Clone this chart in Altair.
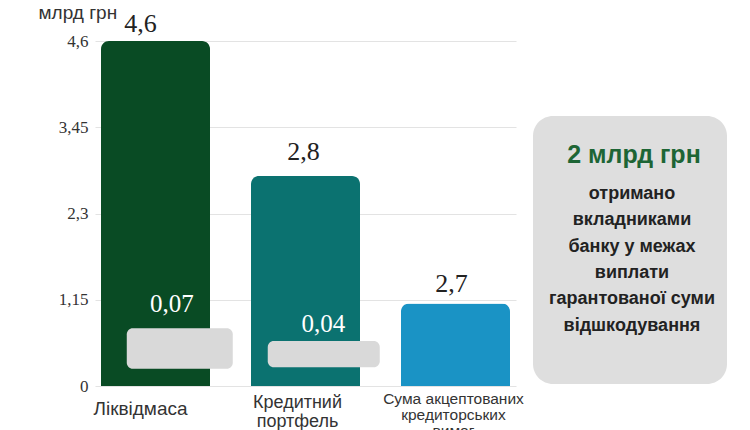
import altair as alt
import pandas as pd

# ---- data ----
categories = ["Ліквідмаса", "Кредитний портфель", "Сума акцептованих кредиторських вимог"]
category_text = ["Ліквідмаса", "Кредитний\nпортфель", "Сума акцептованих\nкредиторських\nвимог"]
bar_values = [4.6, 2.8, 1.1]
value_labels = ["4,6", "2,8", "2,7"]
y_ticks = [0, 1.15, 2.3, 3.45, 4.6]
unit_label = "млрд грн"
small_cats = ["Ліквідмаса", "Кредитний портфель"]
small_labels = ["0,07", "0,04"]
box_low = [0.23, 0.25]
box_high = [0.77, 0.60]
panel_title = "2 млрд грн"
panel_lines = ["отримано", "вкладниками", "банку у межах", "виплати",
               "гарантованої суми", "відшкодування"]

# ---- styles ----
bar_colors = ["#094b24", "#0b7270", "#1a93c5"]
SERIF = "Liberation Serif"
SANS = "Liberation Sans"
W, H = 421, 345

df = pd.DataFrame({"cat": categories, "value": bar_values, "label": value_labels,
                   "text": category_text, "idx": [0, 1, 2]})
df_small = pd.DataFrame({"cat": small_cats, "low": box_low, "high": box_high,
                         "label": small_labels, "idx": [0, 1]})

xenc = alt.X("cat:N", sort=categories,
             scale=alt.Scale(paddingInner=0.273, paddingOuter=0.04), axis=None)
yscale = alt.Scale(domain=[0, 4.6], nice=False)

base = alt.Chart(df)

bars = base.mark_bar(cornerRadiusTopLeft=8, cornerRadiusTopRight=8).encode(
    x=xenc,
    y=alt.Y("value:Q", scale=yscale,
            axis=alt.Axis(values=y_ticks, grid=True, gridColor="#e3e3e3", gridWidth=1,
                          domain=False, ticks=False, labelPadding=7,
                          labelFont=SERIF, labelFontSize=17, labelColor="#333",
                          labelExpr="replace(toString(datum.value), '.', ',')",
                          title=unit_label, titleAngle=0, titleX=-57, titleY=-23,
                          titleAlign="left", titleBaseline="alphabetic",
                          titleFont=SANS, titleFontSize=19, titleFontWeight="normal",
                          titleColor="#333")),
    color=alt.Color("cat:N", scale=alt.Scale(domain=categories, range=bar_colors), legend=None),
)

layers = [bars]

# value labels above bars
val_dx = [-15, -2, -4]
val_dy = [-9, -16, -12]
for i in range(3):
    layers.append(
        base.transform_filter(alt.datum.idx == i)
        .mark_text(font=SERIF, fontSize=26, color="#222", baseline="alphabetic",
                   dx=val_dx[i], dy=val_dy[i])
        .encode(x=xenc, y=alt.Y("value:Q", scale=yscale), text="label:N")
    )

# grey boxes and white small labels
box_w = [106, 112]
box_off = [24.25, 18.25]
small_dx = [16.25, 17.75]
small_dy = [-16, -9]
small = alt.Chart(df_small)
for i in range(2):
    layers.append(
        small.transform_filter(alt.datum.idx == i)
        .mark_bar(width=box_w[i], xOffset=box_off[i], cornerRadius=6, color="#d9d9d9")
        .encode(x=xenc, y=alt.Y("low:Q", scale=yscale), y2="high:Q")
    )
    layers.append(
        small.transform_filter(alt.datum.idx == i)
        .mark_text(font=SERIF, fontSize=25, color="white", baseline="alphabetic",
                   dx=small_dx[i], dy=small_dy[i])
        .encode(x=xenc, y=alt.Y("high:Q", scale=yscale), text="label:N")
    )

# category labels
cat_y = [374, 367, 363]
cat_dx = [-15, -8, -2]
cat_size = [19, 18, 15.5]
cat_lh = [19, 19, 16]
for i in range(3):
    layers.append(
        base.transform_filter(alt.datum.idx == i)
        .mark_text(font=SANS, fontSize=cat_size[i], color="#333", baseline="alphabetic",
                   lineBreak="\n", lineHeight=cat_lh[i], dx=cat_dx[i])
        .encode(x=xenc, y=alt.value(cat_y[i]), text="text:N")
    )

# side panel
one = alt.Chart(pd.DataFrame({"k": [0]}))
layers.append(one.mark_rect(cornerRadius=20, color="#dedede").encode(
    x=alt.value(438), x2=alt.value(632), y=alt.value(75), y2=alt.value(343)))
layers.append(one.mark_text(text=panel_title, font=SANS, fontSize=25, fontWeight="bold",
                            color="#1d6535", baseline="alphabetic", align="center").encode(
    x=alt.value(539), y=alt.value(122)))
layers.append(one.mark_text(text=panel_lines, font=SANS, fontSize=18, fontWeight="bold",
                            color="#222", baseline="alphabetic", align="center",
                            lineHeight=26.3).encode(
    x=alt.value(537), y=alt.value(158)))

chart = alt.layer(*layers).properties(
    width=W, height=H,
    autosize=alt.AutoSizeParams(type="none"),
    padding={"left": 95, "top": 41, "right": 750 - 95 - W, "bottom": 430 - 41 - H},
    background="white",
).configure_view(stroke=None)

chart.save("out.html", embed_options={"renderer": "svg", "actions": False})
